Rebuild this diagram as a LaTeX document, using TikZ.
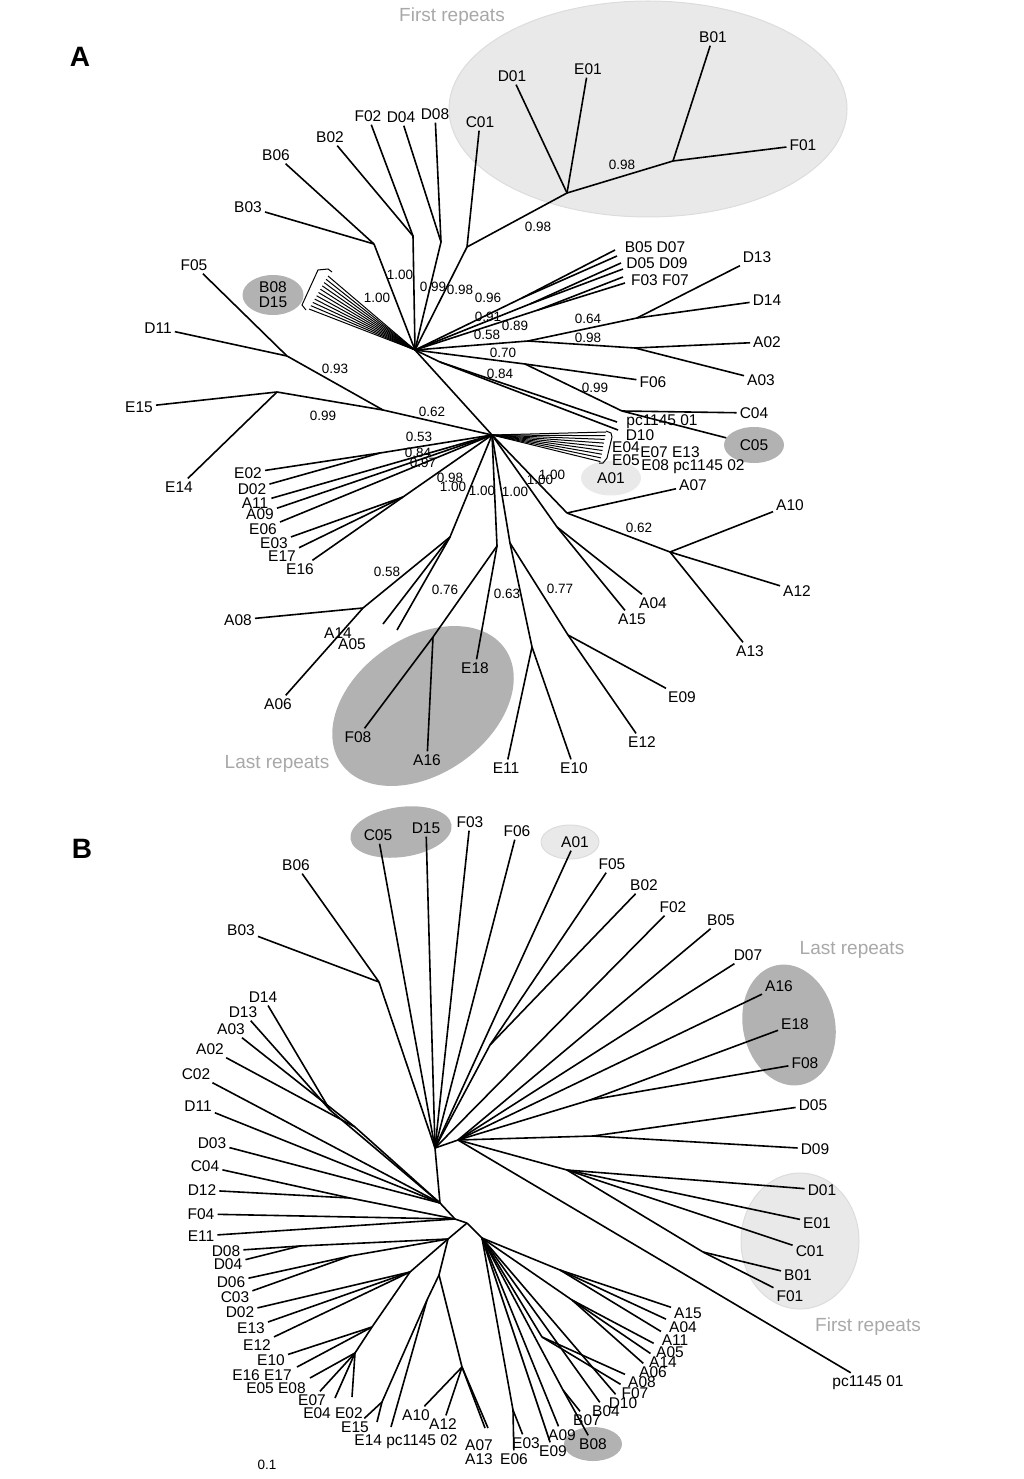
\documentclass[tikz,border=0pt]{standalone}
\usepackage{fontspec}
\setmainfont{Liberation Sans}
\usetikzlibrary{shapes.geometric}
\definecolor{blobpale}{HTML}{E9E9E9}
\definecolor{blobpaleedge}{HTML}{DCDCDC}
\definecolor{blobdark}{HTML}{B2B2B2}
\definecolor{notegray}{HTML}{A8A8A8}

\begin{document}
\begin{tikzpicture}[
        x=1pt, y=-1pt,
        every node/.style={font=\fontsize{15.5}{16}\selectfont, inner sep=3pt},
        supp/.style={font=\fontsize{13.5}{14}\selectfont, inner sep=0pt},
        note/.style={font=\fontsize{19}{20}\selectfont, text=notegray},
        panel/.style={font=\fontsize{28}{30}\selectfont\bfseries},
        branch/.style={line width=1.6pt, line join=round},
        thin branch/.style={line width=1pt},
        paleblob/.style={fill=blobpale, draw=blobpaleedge, line width=1pt},
        darkblob/.style={fill=blobdark},
        blobnode/.style={ellipse, inner sep=0pt}
    ]
    \useasboundingbox (0,0) rectangle (1024,1479);

    % ---------------- Panel A ----------------
    \node[panel] (panelA) at (80,57) {A};
    \path[paleblob] (648,109) ellipse [x radius=199pt, y radius=108pt];
    \path[darkblob, rotate around={35:(423,706)}] (423,706) ellipse [x radius=100pt, y radius=68pt];
    \node[note] (firstA) at (452,17) {First repeats};
    \node[note] (lastA) at (277,764) {Last repeats};

    % hubs and inner nodes
    \coordinate (hA) at (415,350);
    \coordinate (hB) at (492,435);
    \foreach \n/\x/\y in {nB3/374/244, nB2/413/236, nD4/441/242, nC1/467/247,
        nFR/567/193, nB1/673/161, nP1/522/298, nP2/530/304, nP3/538/310,
        nDA/528/341, nD13/637/318, nA23/635/348, nF6/525/364, nC4/622/411,
        nPc/440/362, n62/383/410, nF5/287/356, nE15/277/392, nE2/380/453,
        nE3/403/497, nA5/450/537, nA8/363/608, nE18/497/546, nF8/433/637,
        nEE/510/543, nE11/532/647, nE9/568/635, nA4/557/527, nA7/567/513,
        nA10/670/552}
        \coordinate (\n) at (\x,\y);
    % free ends
    \foreach \n/\x/\y in {cBD1/615/250, cBD2/617/256, cDD1/621/263, cDD2/623/269,
        cFF1/623/277, cFF2/625/283, cPc1/617/422, cD10/618/430,
        cA14/383/624, cA05/397/630}
        \coordinate (\n) at (\x,\y);

    % leaves
    \foreach \n/\x/\y in {B03/248/207, B06/276/155, B02/330/137, F02/368/116,
        D04/401/117, D08/435/114, C01/480/122, D01/512/76, E01/588/69,
        B01/713/37, F01/803/145, D13/757/257, D14/767/300, A02/767/342,
        A03/761/380, F06/653/382, C04/754/413, F05/194/265, D11/158/328,
        E15/139/407, E14/179/487, E02/248/473, D02/252/489, A11/255/503,
        A09/260/514, E06/263/529, E03/274/543, E17/282/556, E16/300/569,
        A08/238/620, A06/278/704, F08/358/737, A16/427/760, E18/475/668,
        E11/506/768, E10/574/768, E09/682/697, E12/642/742, A04/653/603,
        A15/632/619, A07/693/485, A10/790/505, A12/797/591, A13/750/651}
        \node (a\n) at (\x,\y) {\n};
    \node[blobnode, darkblob, minimum width=60pt, minimum height=36pt] (aC05) at (754,445) {C05};
    \node[blobnode, fill=blobpale, minimum width=60pt, minimum height=35pt] (aA01) at (611,478) {A01};
    \node[blobnode, darkblob, minimum width=61pt, minimum height=40pt, align=center,
        font=\fontsize{15.5}{15}\selectfont] (aB08) at (273,295) {B08\\D15};
    \node (aBD) at (655,247) {B05 D07};
    \node (aDD) at (657,263) {D05 D09};
    \node (aFF) at (660,280) {F03 F07};
    \node (apc01) at (662,422) {pc1145 01};
    \node (aD10) at (640,435) {D10};
    \node (aE04) at (626,447) {E04};
    \node (aE07) at (670,452) {E07 E13};
    \node (aE05) at (626,460) {E05};
    \node (aE08) at (693,467) {E08 pc1145 02};
    \node (aA14) at (338,633) {A14};
    \node (aA05) at (352,644) {A05};

    % branches
    \foreach \u/\v in {hA/nB3, nB3/aB03, nB3/aB06, hA/nB2, nB2/aB02, nB2/aF02,
        hA/nD4, nD4/aD04, nD4/aD08, hA/nC1, nC1/aC01, nC1/nFR, nFR/aD01,
        nFR/aE01, nFR/nB1, nB1/aB01, nB1/aF01, hA/nP1, nP1/cBD1, nP1/cBD2,
        hA/nP2, nP2/cDD1, nP2/cDD2, hA/nP3, nP3/cFF1, nP3/cFF2, hA/nDA,
        nDA/nD13, nD13/aD13, nD13/aD14, nDA/nA23, nA23/aA02, nA23/aA03,
        hA/nF6, nF6/aF06, nF6/nC4, nC4/aC04, nC4/aC05, hA/nPc, nPc/cPc1,
        nPc/cD10, hA/hB, hB/n62, n62/nF5, nF5/aF05, nF5/aD11, n62/nE15,
        nE15/aE15, nE15/aE14, hB/nE2, nE2/aE02, nE2/aD02, hB/aA11, hB/aA09,
        hB/aE06, hB/nE3, nE3/aE03, nE3/aE17, nE3/aE16, hB/nA5, nA5/nA8,
        nA8/aA08, nA8/aA06, nA5/cA14, nA5/cA05, hB/nE18, nE18/aE18,
        nE18/nF8, nF8/aF08, nF8/aA16, hB/nEE, nEE/nE11, nE11/aE11,
        nE11/aE10, nEE/nE9, nE9/aE09, nE9/aE12, hB/nA4, nA4/aA04, nA4/aA15,
        hB/nA7, nA7/aA07, nA7/nA10, nA10/aA10, nA10/aA12, nA10/aA13}
        \draw[branch] (\u) -- (\v);

    % collapsed bundles
    \foreach \i in {0,...,10} {
        \coordinate (bw\i) at ({328-1.9*\i},{276+3.3*\i});
        \draw[thin branch] (hA) -- (bw\i);
    }
    \foreach \i in {0,...,8} {
        \coordinate (be\i) at ({606-0.7*\i},{432+3.7*\i});
        \draw[thin branch] (hB) -- (be\i);
    }
    \draw[line width=1pt] (332,272) -- (328,269) -- (318,270) -- (302,305) -- (306,310);
    \draw[line width=1pt] (606,431) -- (611,433) -- (612,437) -- (607,458) -- (603,463) -- (599,463);

    % support values
    \foreach \x/\y/\v [count=\k] in {400/275/1.00, 377/298/1.00, 433/287/0.99,
        460/290/0.98, 488/298/0.96, 488/317/0.91, 515/326/0.89, 487/335/0.58,
        588/319/0.64, 588/338/0.98, 503/353/0.70, 500/374/0.84, 595/388/0.99,
        538/227/0.98, 622/165/0.98, 335/369/0.93, 323/416/0.99, 432/412/0.62,
        419/437/0.53, 418/453/0.84, 423/463/0.97, 450/478/0.98, 453/487/1.00,
        482/491/1.00, 515/492/1.00, 540/480/1.00, 552/475/1.00, 387/572/0.58,
        445/590/0.76, 507/594/0.63, 560/589/0.77, 639/528/0.62}
        \node[supp] (sa\k) at (\x,\y) {\v};

    % ---------------- Panel B ----------------
    \node[panel] (panelB) at (82,849) {B};
    \path[darkblob, rotate around={8:(401,832)}] (401,832) ellipse [x radius=51pt, y radius=25pt];
    \path[paleblob] (570,842) ellipse [x radius=29pt, y radius=17pt];
    \path[darkblob, rotate around={12:(789,1025)}] (789,1025) ellipse [x radius=46pt, y radius=61pt];
    \path[paleblob] (800,1241) ellipse [x radius=59pt, y radius=68pt];
    \path[darkblob] (593,1444) ellipse [x radius=29pt, y radius=17pt];
    \node[note] (lastB) at (852,950) {Last repeats};
    \node[note] (firstB) at (868,1327) {First repeats};
    \node[supp] (scaleB) at (267,1465) {0.1};

    \foreach \n/\x/\y in {UH/435/1148, RH/458/1140, LH/440/1203, L2/455/1219,
        BH/467/1223, nBB/379/982, nFB/490/1045, nEF/590/1100, nD5/593/1136,
        nD1/567/1170, nBF/703/1252, nDD/330/1110, nAA/355/1127, nCD/350/1198,
        nL/448/1239, nD84/300/1246, nD6/350/1256, nM/410/1272, nE/372/1327,
        nE2/355/1353, nLow/439/1275, nLow2/427/1300, nEE/382/1402, nA/462/1367,
        nR/482/1238, nRa/560/1270, nRb/572/1300, nRc/542/1337, nB7/563/1390,
        nE36/513/1410}
        \coordinate (b\n) at (\x,\y);
    \foreach \n/\x/\y in {cA07/485/1428, cA13/488/1428, cE14/377/1422,
        cPc2/391/1427, cE04/335/1398, cE02/352/1397, cE05/310/1378,
        cE16/297/1367}
        \coordinate (b\n) at (\x,\y);

    \foreach \n/\x/\y in {B06/296/865, B03/241/930, C05/378/835, D15/426/828,
        F03/470/822, F06/517/831, A01/575/842, F05/612/864, B02/644/885,
        F02/673/907, B05/721/920, D07/748/955, A16/779/986, E18/795/1024,
        F08/805/1063, D05/813/1105, D09/815/1149, D01/822/1190, E01/817/1223,
        C01/810/1251, B01/798/1275, F01/790/1296, A15/688/1313, A04/683/1327,
        A11/675/1340, A05/670/1352, A14/663/1362, A06/653/1372, A08/642/1382,
        F07/635/1393, D10/623/1403, B04/606/1411, B07/587/1420, B08/593/1444,
        A09/562/1435, E09/553/1451, E03/526/1443, E06/514/1459, A10/416/1415,
        A12/443/1424, E15/355/1427, E07/312/1400, E10/271/1360, E12/257/1345,
        E13/251/1328, D02/240/1312, C03/235/1297, D06/231/1282, D04/228/1264,
        D08/226/1251, E11/201/1236, F04/201/1214, D12/202/1190, C04/205/1166,
        D03/212/1143, D11/198/1106, C02/196/1074, A02/210/1049, A03/231/1029,
        D13/243/1012, D14/263/997, A07/479/1445, A13/479/1459}
        \node (b\n) at (\x,\y) {\n};
    \node (bpc01) at (868,1383) {pc1145 01};
    \node (bE14) at (406,1442) {E14 pc1145 02};
    \node (bE04) at (333,1413) {E04 E02};
    \node (bE05) at (276,1388) {E05 E08};
    \node (bE16) at (262,1375) {E16 E17};

    \foreach \u/\v in {UH/RH, UH/LH, LH/L2, L2/BH, UH/nBB, nBB/B03, nBB/B06,
        UH/C05, UH/D15, UH/F03, UH/F06, UH/A01, UH/nFB, nFB/F05, nFB/B02,
        UH/F02, RH/B05, RH/D07, RH/A16, RH/nEF, nEF/E18, nEF/F08, RH/nD5,
        nD5/D05, nD5/D09, RH/nD1, nD1/D01, nD1/E01, nD1/C01, nD1/nBF,
        nBF/B01, nBF/F01, RH/pc01, LH/nDD, nDD/D14, nDD/D13, LH/nAA,
        nAA/A03, nAA/A02, LH/C02, LH/D11, LH/D03, L2/nCD, nCD/C04, nCD/D12,
        L2/F04, L2/E11, BH/nL, nL/nD84, nD84/D08, nD84/D04, nL/nD6, nD6/D06,
        nD6/C03, nL/nM, nM/D02, nM/E13, nM/E12, nM/nE, nE/E10, nE/cE16,
        nE/nE2, nE2/cE05, nE2/E07, nE2/cE04, nE2/cE02, nL/nLow, nLow/nLow2,
        nLow2/nEE, nEE/E15, nEE/cE14, nLow2/cPc2, nLow/nA, nA/A10, nA/A12,
        nA/cA07, nA/cA13, BH/nR, nR/nRa, nRa/A15, nRa/A04, nRa/A11, nR/nRb,
        nRb/A05, nRb/A14, nRb/A06, nR/nRc, nRc/A08, nRc/F07, nR/D10, nR/B04,
        nR/nB7, nB7/B07, nB7/B08, nR/A09, nR/E09, nR/nE36, nE36/E03,
        nE36/E06}
        \draw[branch] (b\u) -- (b\v);

\end{tikzpicture}
\end{document}
